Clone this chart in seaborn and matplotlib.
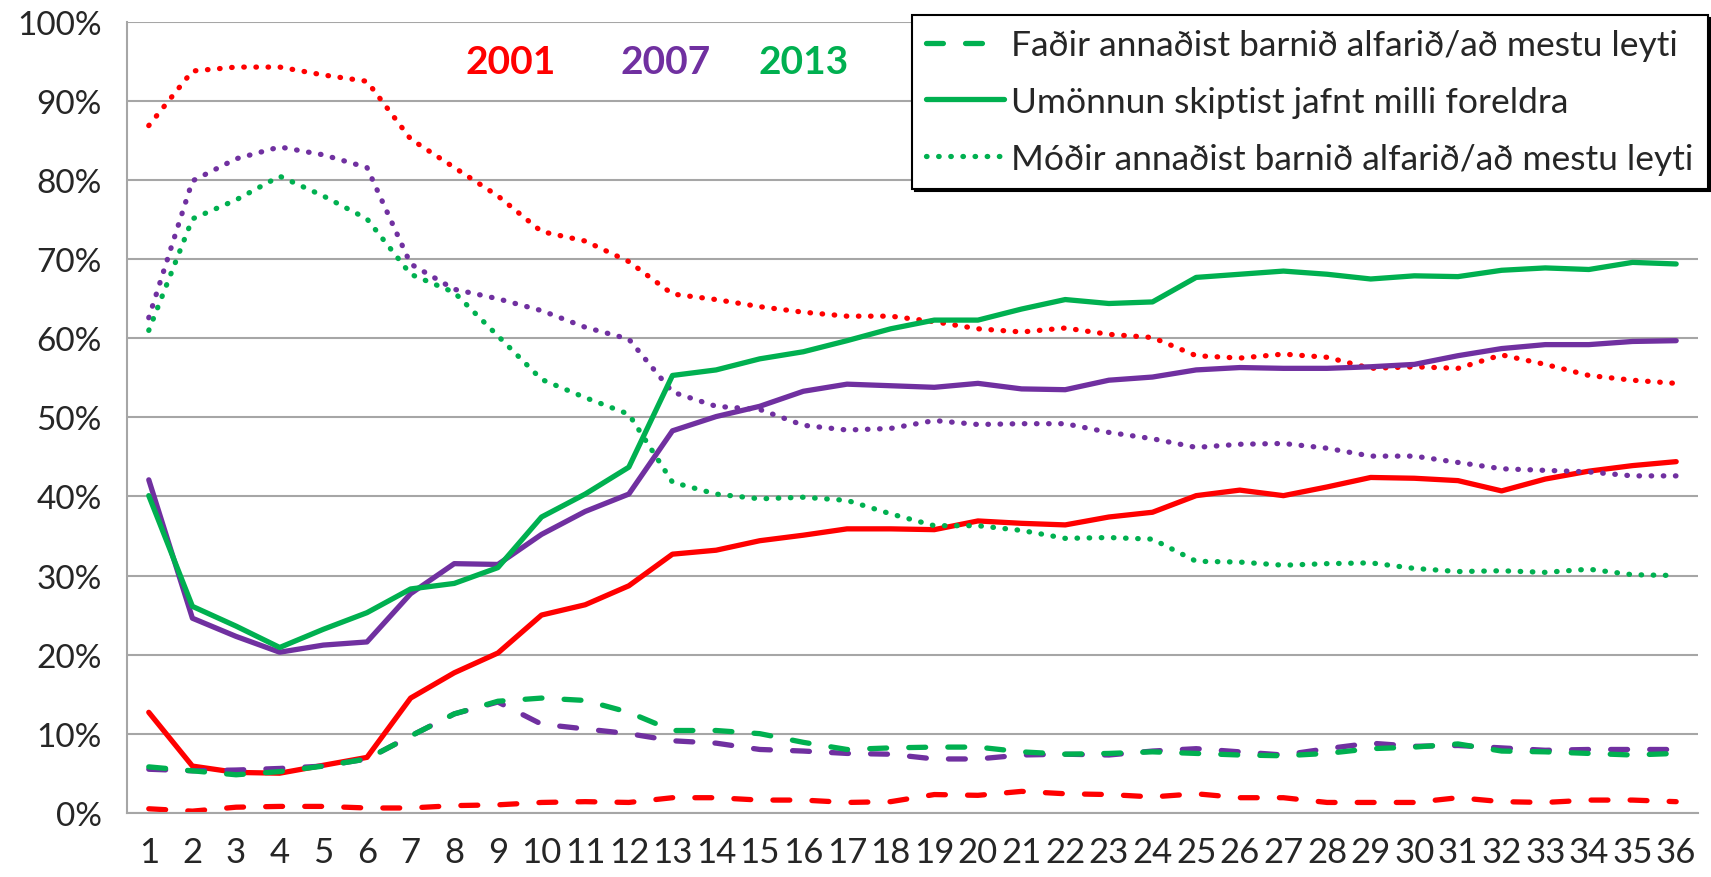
import seaborn as sns
import matplotlib.pyplot as plt
from matplotlib.lines import Line2D
from matplotlib.ticker import FixedLocator, PercentFormatter
import numpy as np
import pandas as pd

# months 1..36
months = list(range(1, 37))

years = ['2001', '2007', '2013']
types = ['Faðir annaðist barnið alfarið/að mestu leyti',
         'Umönnun skiptist jafnt milli foreldra',
         'Móðir annaðist barnið alfarið/að mestu leyti']

# father mostly (dashed), %
fadir_2001 = [0.5, 0.2, 0.7, 0.8, 0.8, 0.6, 0.6, 0.9, 1.0, 1.3, 1.4, 1.3, 1.9, 1.9, 1.6, 1.6, 1.3, 1.4,
              2.3, 2.2, 2.7, 2.4, 2.3, 2.0, 2.4, 1.9, 1.9, 1.3, 1.3, 1.3, 1.9, 1.4, 1.3, 1.6, 1.6, 1.4]
fadir_2007 = [5.5, 5.3, 5.4, 5.6, 5.9, 6.8, 9.7, 12.5, 14.0, 11.2, 10.6, 10.0, 9.1, 8.8, 8.0, 7.8, 7.5, 7.4,
              6.8, 6.8, 7.3, 7.4, 7.3, 7.8, 8.1, 7.7, 7.3, 8.1, 8.8, 8.4, 8.5, 8.2, 7.9, 8.0, 8.0, 8.0]
fadir_2013 = [5.8, 5.3, 4.8, 5.2, 5.9, 6.8, 9.7, 12.5, 14.1, 14.5, 14.2, 12.7, 10.4, 10.4, 10.0, 8.9, 8.0, 8.2,
              8.3, 8.3, 7.7, 7.4, 7.5, 7.7, 7.5, 7.3, 7.2, 7.5, 8.1, 8.3, 8.7, 7.8, 7.7, 7.5, 7.3, 7.5]

# shared equally (solid)
jafnt_2001 = [12.7, 5.9, 5.1, 5.0, 6.0, 7.0, 14.5, 17.7, 20.2, 25.0, 26.3, 28.7, 32.7, 33.2, 34.4, 35.1, 35.9, 35.9,
              35.8, 36.9, 36.6, 36.4, 37.4, 38.0, 40.1, 40.8, 40.1, 41.2, 42.4, 42.3, 42.0, 40.7, 42.2, 43.2, 43.9, 44.4]
jafnt_2007 = [42.1, 24.6, 22.3, 20.3, 21.2, 21.6, 27.7, 31.5, 31.4, 35.2, 38.1, 40.3, 48.3, 50.1, 51.4, 53.3, 54.2, 54.0,
              53.8, 54.3, 53.6, 53.5, 54.7, 55.1, 56.0, 56.3, 56.2, 56.2, 56.4, 56.7, 57.8, 58.7, 59.2, 59.2, 59.6, 59.7]
jafnt_2013 = [40.1, 26.1, 23.6, 20.9, 23.2, 25.3, 28.3, 29.0, 31.0, 37.4, 40.3, 43.7, 55.3, 56.0, 57.4, 58.3, 59.7, 61.2,
              62.3, 62.3, 63.7, 64.9, 64.4, 64.6, 67.7, 68.1, 68.5, 68.1, 67.5, 67.9, 67.8, 68.6, 68.9, 68.7, 69.6, 69.4]

# mother mostly (dotted)
modir_2001 = [86.9, 93.8, 94.3, 94.3, 93.3, 92.5, 85.2, 81.6, 78.0, 73.5, 72.3, 69.7, 65.6, 64.9, 64.0, 63.3, 62.8, 62.8,
              62.1, 61.2, 60.8, 61.3, 60.5, 60.1, 57.8, 57.5, 58.0, 57.6, 56.2, 56.4, 56.2, 57.9, 56.7, 55.3, 54.7, 54.3]
modir_2007 = [62.6, 79.9, 82.7, 84.2, 83.2, 81.6, 69.4, 66.2, 65.0, 63.5, 61.4, 59.9, 53.2, 51.4, 51.0, 49.0, 48.4, 48.6,
              49.6, 49.1, 49.2, 49.2, 48.1, 47.3, 46.2, 46.6, 46.7, 46.1, 45.1, 45.1, 44.3, 43.5, 43.3, 43.1, 42.6, 42.6]
modir_2013 = [61.0, 75.1, 77.5, 80.5, 78.0, 75.1, 68.1, 65.8, 60.3, 54.8, 52.5, 50.4, 41.8, 40.3, 39.7, 39.9, 39.5, 37.8,
              36.3, 36.3, 35.7, 34.7, 34.8, 34.6, 31.8, 31.7, 31.3, 31.5, 31.6, 30.9, 30.5, 30.6, 30.4, 30.8, 30.1, 30.0]

series = {
    ('2001', types[0]): fadir_2001, ('2007', types[0]): fadir_2007, ('2013', types[0]): fadir_2013,
    ('2001', types[1]): jafnt_2001, ('2007', types[1]): jafnt_2007, ('2013', types[1]): jafnt_2013,
    ('2001', types[2]): modir_2001, ('2007', types[2]): modir_2007, ('2013', types[2]): modir_2013,
}
rows = []
for (yr, tp), vals in series.items():
    for m, v in zip(months, vals):
        rows.append({'month': m, 'value': v / 100, 'year': yr, 'type': tp})
df = pd.DataFrame(rows)

colors = {'2001': '#FF0000', '2007': '#7030A0', '2013': '#00B050'}
dash_styles = {types[0]: (3.2, 4.2), types[1]: '', types[2]: (0.1, 2.2)}

sns.set_style('white')
plt.rcParams['font.family'] = ['Lato', 'DejaVu Sans']
plt.rcParams['lines.dash_capstyle'] = 'round'
plt.rcParams['lines.solid_joinstyle'] = 'round'

fig = plt.figure(figsize=(17.11, 8.78), dpi=100)
ax = fig.add_axes([0.0742, 0.0732, 0.9182, 0.9006])

sns.lineplot(data=df, x='month', y='value', hue='year', style='type',
             palette=colors, dashes=dash_styles, hue_order=years, style_order=types,
             linewidth=3.8, legend=False, ax=ax)

grid_col = '#A6A6A6'
ax.set_xlim(0.5, 36.5)
ax.set_ylim(0, 1.0)
ax.set_xlabel('')
ax.set_ylabel('')
ax.set_yticks(np.arange(0, 1.01, 0.1))
ax.yaxis.set_major_formatter(PercentFormatter(1.0, decimals=0))
ax.set_xticks(months)
ax.xaxis.set_minor_locator(FixedLocator(np.arange(0.5, 37, 1)))
ax.tick_params(axis='x', which='major', length=0, pad=17, labelsize=25)
ax.tick_params(axis='x', which='minor', length=9, width=1.5, color=grid_col, direction='out')
ax.tick_params(axis='y', length=9, width=1.5, color=grid_col, direction='out', pad=9, labelsize=24)
ax.yaxis.grid(True, color=grid_col, linewidth=1.5)
ax.set_axisbelow(True)
for s in ['top', 'right']:
    ax.spines[s].set_visible(False)
for s in ['left', 'bottom']:
    ax.spines[s].set_color(grid_col)
    ax.spines[s].set_linewidth(1.5)

# year labels
ax.text(9.3, 0.95, '2001', color=colors['2001'], fontsize=28, fontweight='bold', ha='center', va='center')
ax.text(12.85, 0.95, '2007', color=colors['2007'], fontsize=28, fontweight='bold', ha='center', va='center')
ax.text(16.0, 0.95, '2013', color=colors['2013'], fontsize=28, fontweight='bold', ha='center', va='center')

handles = []
for tp in types:
    d = dash_styles[tp]
    h = Line2D([], [], color=colors['2013'], linewidth=3.8, dash_capstyle='round')
    if d:
        h.set_dashes(d)
    handles.append(h)
leg = ax.legend(handles, types, loc='upper right', bbox_to_anchor=(0.998, 0.982),
                bbox_transform=fig.transFigure, fontsize=25.5, frameon=True, fancybox=False,
                edgecolor='black', framealpha=1, handlelength=2.2, handletextpad=0.2,
                labelspacing=0.7, borderpad=0.4, borderaxespad=0,
                shadow={'ox': 2, 'oy': -2, 'color': 'black', 'alpha': 1})
leg.get_frame().set_linewidth(1.5)

plt.savefig('out.png', dpi=100)
